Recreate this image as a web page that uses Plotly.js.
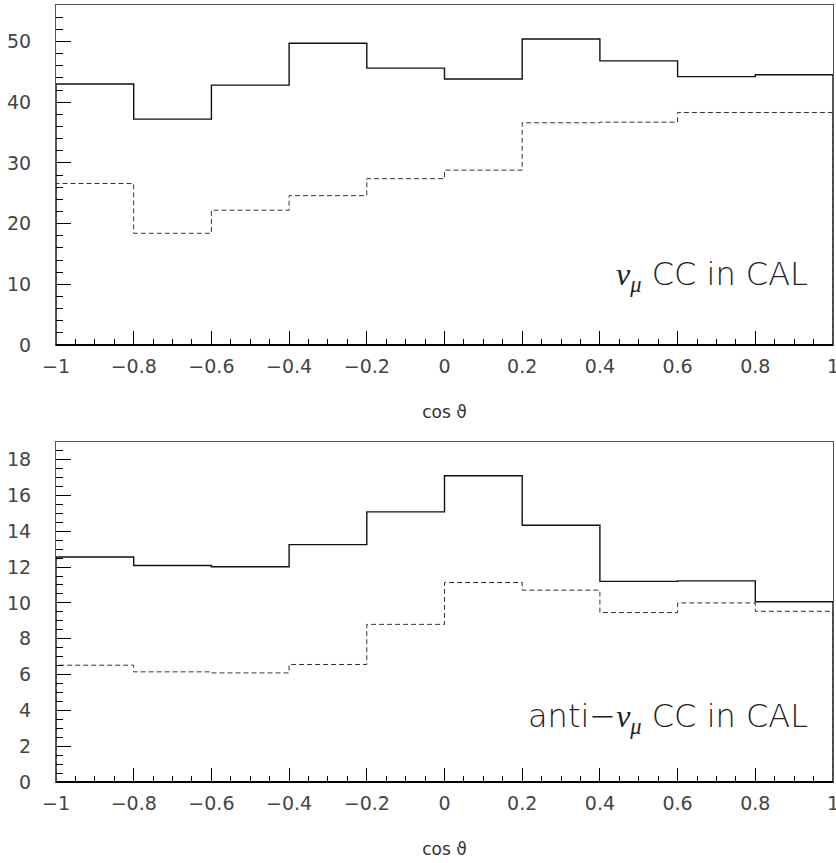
<!DOCTYPE html>
<html>
<head>
<meta charset="utf-8">
<script src="https://cdn.plot.ly/plotly-3.0.1.min.js"></script>
<style>
  html, body { margin: 0; padding: 0; background: #fff; }
  #chart { width: 836px; height: 863px; }
</style>
</head>
<body>
<div id="chart"></div>
<script>
// Bin edges in cos(theta); also used as the major x ticks
const binEdges = [-1, -0.8, -0.6, -0.4, -0.2, 0, 0.2, 0.4, 0.6, 0.8, 1];

// nu_mu CC in CAL
const numuSolid  = [43.0, 37.2, 42.8, 49.7, 45.6, 43.8, 50.4, 46.8, 44.2, 44.5];
const numuDashed = [26.6, 18.4, 22.2, 24.6, 27.4, 28.8, 36.6, 36.7, 38.3, 38.3];

// anti-nu_mu CC in CAL
const antiSolid  = [12.56, 12.09, 12.02, 13.25, 15.08, 17.1, 14.33, 11.2, 11.23, 10.06];
const antiDashed = [6.52, 6.15, 6.09, 6.56, 8.8, 11.14, 10.71, 9.46, 10.0, 9.53];

// y tick settings per panel
const topYTicks = { max: 56, dtick: 10, minor: 2 };
const botYTicks = { max: 19, dtick: 2, minor: 0.5 };

// Histogram outline: rises from 0 at the first edge and drops to 0 at the last
function outline(values) {
  const x = [binEdges[0]];
  const y = [0];
  values.forEach((v, i) => { x.push(binEdges[i]); y.push(v); });
  x.push(binEdges[binEdges.length - 1]); y.push(values[values.length - 1]);
  x.push(binEdges[binEdges.length - 1]); y.push(0);
  return { x, y };
}

function histTrace(values, axes, dashed) {
  const o = outline(values);
  return {
    type: 'scatter', mode: 'lines',
    x: o.x, y: o.y,
    xaxis: axes[0], yaxis: axes[1],
    line: dashed
      ? { shape: 'hv', color: '#333', width: 1, dash: '5px,3px' }
      : { shape: 'hv', color: '#111', width: 1.4 },
    hoverinfo: 'skip', showlegend: false
  };
}

const data = [
  histTrace(numuSolid, ['x', 'y'], false),
  histTrace(numuDashed, ['x', 'y'], true),
  histTrace(antiSolid, ['x2', 'y2'], false),
  histTrace(antiDashed, ['x2', 'y2'], true)
];

const FONT = 'DejaVu Sans, sans-serif';

function xAxis(anchor) {
  return {
    anchor: anchor, domain: [0, 1], range: [-1, 1],
    tickmode: 'array', tickvals: binEdges,
    ticks: 'inside', ticklen: 14, tickwidth: 1, tickcolor: '#000',
    minor: { tickmode: 'linear', tick0: -1, dtick: 0.05, ticks: 'inside', ticklen: 6, tickwidth: 1, tickcolor: '#000' },
    showline: true, mirror: true, linecolor: '#555', linewidth: 1,
    showgrid: false, zeroline: false,
    tickfont: { family: FONT, size: 19, color: '#444' },
    ticklabelstandoff: 4,
    ticklabeloverflow: 'allow',
    title: { text: 'cos ϑ', standoff: 30, font: { family: FONT, size: 17, color: '#333' } }
  };
}

function yAxis(anchor, domain, t) {
  return {
    anchor: anchor, domain: domain, range: [0, t.max],
    tick0: 0, dtick: t.dtick,
    ticks: 'inside', ticklen: 15, tickwidth: 1, tickcolor: '#000',
    minor: { dtick: t.minor, ticks: 'inside', ticklen: 7, tickwidth: 1, tickcolor: '#000' },
    showline: true, mirror: true, linecolor: '#555', linewidth: 1,
    showgrid: false, zeroline: false,
    tickfont: { family: FONT, size: 19, color: '#444' },
    ticklabelstandoff: 20
  };
}

const labelFont = { family: FONT, size: 32, color: '#222', weight: 200 };
// Greek letters in a lighter serif italic
const nuMu = '<span style="font-family:Liberation Serif;font-weight:400;font-style:italic">ν</span>' +
             '<sub><span style="font-family:Liberation Serif;font-weight:400;font-style:italic">μ</span></sub>';

const layout = {
  width: 836, height: 863,
  margin: { l: 56, r: 3, t: 5, b: 81 },
  paper_bgcolor: '#fff', plot_bgcolor: '#fff',
  showlegend: false,
  xaxis: xAxis('y'),
  yaxis: yAxis('x', [0.5624, 1], topYTicks),
  xaxis2: xAxis('y2'),
  yaxis2: yAxis('x2', [0, 0.438], botYTicks),
  shapes: [
    // heavier baseline along each x axis
    { type: 'line', xref: 'x domain', yref: 'y domain', x0: 0, x1: 1, y0: 0, y1: 0,
      line: { color: '#000', width: 2 } },
    { type: 'line', xref: 'x2 domain', yref: 'y2 domain', x0: 0, x1: 1, y0: 0, y1: 0,
      line: { color: '#000', width: 2 } }
  ],
  annotations: [
    { text: nuMu + ' CC in CAL', xref: 'paper', yref: 'paper',
      x: 0.97, y: 0.651, xanchor: 'right', yanchor: 'middle', showarrow: false,
      font: labelFont },
    { text: 'anti−' + nuMu + ' CC in CAL', xref: 'paper', yref: 'paper',
      x: 0.97, y: 0.082, xanchor: 'right', yanchor: 'middle', showarrow: false,
      font: labelFont }
  ]
};

Plotly.newPlot('chart', data, layout, { staticPlot: true, displayModeBar: false });
</script>
</body>
</html>
